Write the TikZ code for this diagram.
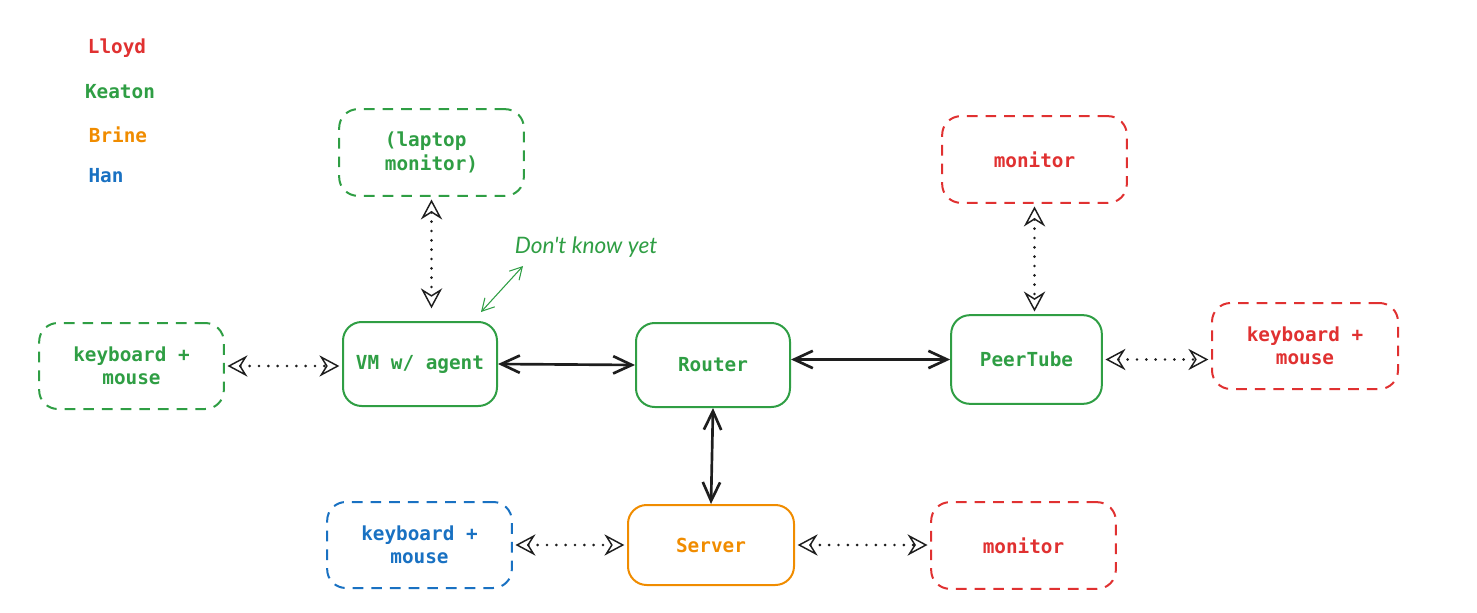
\documentclass[tikz,border=0pt]{standalone}
\usepackage{fontspec}
\setmonofont{DejaVu Sans Mono}
\newfontfamily\handfont{Lato}
\usetikzlibrary{arrows.meta,positioning}

\definecolor{lloydred}{HTML}{E03131}
\definecolor{keatongreen}{HTML}{2F9E44}
\definecolor{brineorange}{HTML}{F08C00}
\definecolor{hanblue}{HTML}{1971C2}
\definecolor{inkblack}{HTML}{1E1E1E}

\tikzset{
  box/.style={rounded corners=14pt, line width=1.5pt, align=center,
    font=\ttfamily\bfseries\fontsize{14.5}{17.5}\selectfont, inner sep=0pt},
  devbox/.style={box, dash pattern=on 8pt off 6pt},
  legend/.style={font=\ttfamily\bfseries\fontsize{14.5}{17}\selectfont},
  link/.style={inkblack, line width=2pt, {Straight Barb[length=14pt,width=13pt]}-{Straight Barb[length=14pt,width=13pt]}},
  plug/.style={inkblack, line width=2.2pt, line cap=round, dash pattern=on 0pt off 7pt, shorten <=2pt, shorten >=2pt,
    {Stealth[open,length=15pt,width=16pt,inset=5pt,line width=1.1pt]}-{Stealth[open,length=15pt,width=16pt,inset=5pt,line width=1.1pt]}},
}

\begin{document}
\begin{tikzpicture}[x=0.75pt,y=0.75pt,yscale=-1,xscale=1]
\useasboundingbox (0,0) rectangle (1477,613);

% Legend
\node[legend, lloydred] (legLloyd) at (117,48) {Lloyd};
\node[legend, keatongreen] (legKeaton) at (120,92) {Keaton};
\node[legend, brineorange] (legBrine) at (118,135) {Brine};
\node[legend, hanblue] (legHan) at (106,176) {Han};

% Main boxes
\node[box, draw=keatongreen, text=keatongreen, minimum width=115.5pt, minimum height=63pt] (vm) at (420,364) {VM w/ agent};
\node[box, draw=keatongreen, text=keatongreen, minimum width=115.5pt, minimum height=63pt] (router) at (713,365) {Router};
\node[box, draw=keatongreen, text=keatongreen, minimum width=113pt, minimum height=66.5pt] (peer) at (1026.5,359.5) {PeerTube};
\node[box, draw=brineorange, text=brineorange, minimum width=124.5pt, minimum height=60pt] (server) at (711,545) {Server};

% Peripherals
\node[devbox, draw=keatongreen, text=keatongreen, minimum width=138.5pt, minimum height=65pt, align=left] (lap) at (431.5,152.5) {(laptop\\monitor)};
\node[devbox, draw=keatongreen, text=keatongreen, minimum width=138.5pt, minimum height=64.5pt] (kbl) at (131.5,366) {keyboard +\\mouse};
\node[devbox, draw=lloydred, text=lloydred, minimum width=138.5pt, minimum height=65pt] (montop) at (1034.5,159.5) {monitor};
\node[devbox, draw=lloydred, text=lloydred, minimum width=139.5pt, minimum height=64.5pt] (kbr) at (1305,346) {keyboard +\\mouse};
\node[devbox, draw=hanblue, text=hanblue, minimum width=138.5pt, minimum height=64.5pt] (kbb) at (419.5,545) {keyboard +\\mouse};
\node[devbox, draw=lloydred, text=lloydred, minimum width=138.5pt, minimum height=65pt] (monbot) at (1023.5,545.5) {monitor};

% Note
\node[keatongreen, font=\handfont\itshape\fontsize{17}{19}\selectfont] (note) at (586,247) {Don't know yet};
\coordinate (noteTip) at (481,312);
\coordinate (noteEnd) at (523,266);
\draw[keatongreen, line width=0.8pt, {Straight Barb[length=9pt,width=10pt]}-{Straight Barb[length=9pt,width=10pt]}]
  (noteTip) -- (noteEnd);

% Network links
\draw[link] (vm.east) -- (router.west);
\draw[link] (peer.west -| router.east) -- (peer.west);
\draw[link] (router.south) -- (server.north);

% Device cables
\draw[plug] (lap.south) -- ([yshift=-7.5pt]lap.south |- vm.north);
\draw[plug] (kbl.east) -- (kbl.east -| vm.west);
\draw[plug] (montop.south) -- (montop.south |- peer.north);
\draw[plug] (peer.east) -- (peer.east -| kbr.west);
\draw[plug] (kbb.east) -- (kbb.east -| server.west);
\draw[plug] (server.east) -- (server.east -| monbot.west);

\end{tikzpicture}
\end{document}
